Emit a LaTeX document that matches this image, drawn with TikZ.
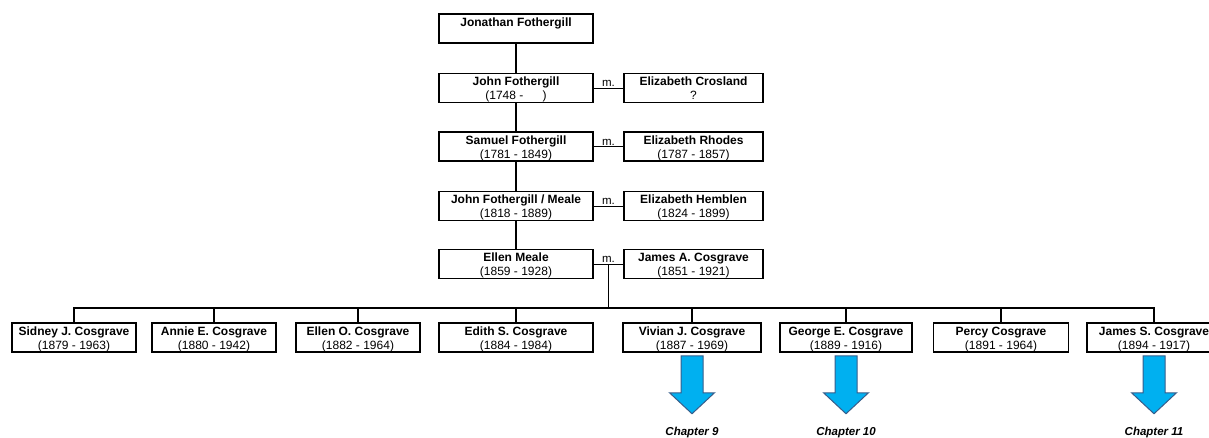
\documentclass[tikz,border=0pt]{standalone}
\usepackage{fontspec}
\setmainfont{Liberation Sans}
\newcommand\famtop{\rule{0pt}{11.5pt}}
\newcommand\fambot{\rule[-2.5pt]{0pt}{2.5pt}}
\newcommand\famtext[2]{\famtop\textbf{#1}\\#2\fambot}
\begin{document}
\begin{tikzpicture}[x=1pt,y=-1pt,
  box/.style={draw, line width=1.5pt, inner sep=0pt, minimum height=29pt, align=center,
    font=\fontsize{12}{14}\selectfont},
  conn/.style={line width=1.4pt},
  mline/.style={line width=1pt},
  mlab/.style={font=\fontsize{11.5}{12}\selectfont, inner sep=1pt, above},
  barrow/.style={fill={rgb,255:red,0;green,176;blue,240}, draw={rgb,255:red,56;green,93;blue,138}, line width=1pt, line join=miter},
  chap/.style={font=\fontsize{11.5}{12}\selectfont\bfseries\itshape, anchor=base, inner sep=0pt}]
\useasboundingbox (0,0) rectangle (1209,437);
\clip (0,0) rectangle (1209,437);
% ancestors
\node[box, minimum width=154pt] (jon) at (516,28.5) {\famtext{Jonathan Fothergill}{}};
\node[box, minimum width=154pt] (john) at (516,88) {\famtext{John Fothergill}{(1748 -\hspace{1.6em})}};
\node[box, minimum width=139pt] (elizc) at (693.5,88) {\famtext{Elizabeth Crosland}{?}};
\node[box, minimum width=154pt] (samuel) at (516,146.5) {\famtext{Samuel Fothergill}{(1781 - 1849)}};
\node[box, minimum width=139pt] (elizr) at (693.5,146.5) {\famtext{Elizabeth Rhodes}{(1787 - 1857)}};
\node[box, minimum width=154pt] (johnm) at (516,206) {\famtext{John Fothergill / Meale}{(1818 - 1889)}};
\node[box, minimum width=139pt] (elizh) at (693.5,206) {\famtext{Elizabeth Hemblen}{(1824 - 1899)}};
\node[box, minimum width=154pt] (ellen) at (516,264) {\famtext{Ellen Meale}{(1859 - 1928)}};
\node[box, minimum width=139pt] (jamesa) at (693.5,264) {\famtext{James A. Cosgrave}{(1851 - 1921)}};
% children
\node[box, minimum width=124pt] (sidney) at (74,337.5) {\famtext{Sidney J. Cosgrave}{(1879 - 1963)}};
\node[box, minimum width=124pt] (annie) at (214,337.5) {\famtext{Annie E. Cosgrave}{(1880 - 1942)}};
\node[box, minimum width=124pt] (ellno) at (358,337.5) {\famtext{Ellen O. Cosgrave}{(1882 - 1964)}};
\node[box, minimum width=154pt] (edith) at (516,337.5) {\famtext{Edith S. Cosgrave}{(1884 - 1984)}};
\node[box, minimum width=138pt] (vivian) at (692,337.5) {\famtext{Vivian J. Cosgrave}{(1887 - 1969)}};
\node[box, minimum width=132pt] (george) at (846,337.5) {\famtext{George E. Cosgrave}{(1889 - 1916)}};
\node[box, minimum width=135pt] (percy) at (1001,337.5) {\famtext{Percy Cosgrave}{(1891 - 1964)}};
\node[box, minimum width=134pt] (jamess) at (1154,337.5) {\famtext{James S. Cosgrave}{(1894 - 1917)}};
% descent lines
\draw[conn] (jon) -- (john);
\draw[conn] (john) -- (samuel);
\draw[conn] (samuel) -- (johnm);
\draw[conn] (johnm) -- (ellen);
% marriages
\draw[mline] (john) -- (elizc) node[midway, mlab] {m.};
\draw[mline] (samuel) -- (elizr) node[midway, mlab] {m.};
\draw[mline] (johnm) -- (elizh) node[midway, mlab] {m.};
\draw[mline] (ellen) -- (jamesa) coordinate[midway] (em) node[midway, mlab] {m.};
\path (em) ++(0,44) coordinate (bus);
\draw[conn] (em) -- (bus);
\foreach \c in {sidney,annie,ellno,edith,vivian,george,percy,jamess}
  \draw[conn] (bus) -| (\c.north);
% chapter arrows
\foreach \c/\n in {vivian/9,george/10,jamess/11}{
  \path (\c.south) ++(0,3) coordinate (a\n);
  \draw[barrow] (a\n) ++(-11,0) -- ++(0,37) -- ++(-11.5,0) -- ++(22.5,21) -- ++(22.5,-21) -- ++(-11.5,0) -- ++(0,-37) -- cycle;
  \path (a\n) ++(0,80) node[chap] (ch\n) {Chapter \n};
}
\end{tikzpicture}
\end{document}
